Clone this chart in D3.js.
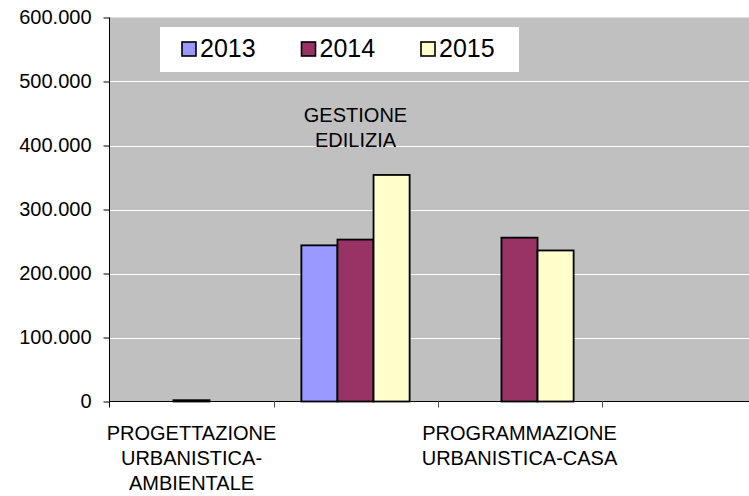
<!DOCTYPE html>
<html>
<head>
<meta charset="utf-8">
<script src="https://cdn.jsdelivr.net/npm/d3@7"></script>
<style>
  body { margin: 0; background: #fff; }
  text { font-family: "Liberation Sans", Arial, sans-serif; fill: #000; }
</style>
</head>
<body>
<div id="chart"></div>
<script>
// Dati del grafico
var categories = ["PROGETTAZIONE URBANISTICA-AMBIENTALE", "GESTIONE EDILIZIA", "PROGRAMMAZIONE URBANISTICA-CASA", ""];
var categoryLines = [["PROGETTAZIONE", "URBANISTICA-", "AMBIENTALE"], ["GESTIONE", "EDILIZIA"], ["PROGRAMMAZIONE", "URBANISTICA-CASA"], []];
var years = ["2013", "2014", "2015"];
var values2013 = [null, 244000, null, null];
var values2014 = [2000, 253000, 256000, null];
var values2015 = [null, 354000, 236000, null];
var yTicks = [0, 100000, 200000, 300000, 400000, 500000, 600000];
var colors = ["#9999FF", "#993366", "#FFFFCC"];

var series = [values2013, values2014, values2015];

var width = 749,
  height = 496;

var svg = d3.select("#chart")
  .append("svg")
  .attr("width", width)
  .attr("height", height);

// formato italiano per i numeri (600.000)
var it = d3.formatLocale({ decimal: ",", thousands: ".", grouping: [3], currency: ["€", ""] });
var fmt = it.format(",d");

// Scale
var x = d3.scaleBand()
  .domain(categories)
  .range([109.5, 765.5])
  .paddingInner(0.34)
  .paddingOuter(0.17);

var xs = d3.scaleBand()
  .domain(years)
  .range([0, x.bandwidth()]);

var y = d3.scaleLinear()
  .domain([0, 600000])
  .range([401.5, 17.5]);

// area del grafico
svg.append("rect")
  .attr("x", 109.5)
  .attr("y", y(600000))
  .attr("width", width - 109.5)
  .attr("height", y(0) - y(600000))
  .style("fill", "#C0C0C0");

// griglia
svg.selectAll(".grid")
  .data(yTicks.filter(function(d) { return d > 0 && d < 600000; }))
  .enter()
  .append("line")
  .attr("x1", 110)
  .attr("x2", width)
  .attr("y1", function(d) { return Math.round(y(d)) + 0.5; })
  .attr("y2", function(d) { return Math.round(y(d)) + 0.5; })
  .style("stroke", "#fff")
  .style("stroke-width", 1);

// barre
var bars = [];
categories.forEach(function(c, i) {
  years.forEach(function(yr, j) {
    if (series[j][i] != null) bars.push({ cat: c, year: yr, value: series[j][i], color: colors[j] });
  });
});

svg.selectAll(".bar")
  .data(bars)
  .enter()
  .append("rect")
  .attr("x", function(d) { return x(d.cat) + xs(d.year); })
  .attr("y", function(d) { return y(d.value); })
  .attr("width", xs.bandwidth())
  .attr("height", function(d) { return y(0) - y(d.value); })
  .style("fill", function(d) { return d.color; })
  .style("stroke", "#000")
  .style("stroke-width", 1.8);

// asse Y
var yAxis = svg.append("g")
  .attr("transform", "translate(109.5,0)")
  .call(d3.axisLeft(y).tickValues(yTicks).tickFormat(fmt).tickSize(6).tickSizeOuter(0).tickPadding(12));
yAxis.select(".domain").attr("d", "M0," + y(600000) + "V" + (y(0) + 6)).style("stroke", "#000");
yAxis.selectAll("line").style("stroke", "#000");
yAxis.selectAll("text")
  .style("font-size", "20px")
  .style("font-family", "'Liberation Sans', Arial, sans-serif");

// asse X
svg.append("line")
  .attr("x1", 109.5)
  .attr("x2", width)
  .attr("y1", y(0))
  .attr("y2", y(0))
  .style("stroke", "#000")
  .style("stroke-width", 1.2);

svg.selectAll(".xtick")
  .data(categories)
  .enter()
  .append("line")
  .attr("x1", function(d) { return Math.round(x(d) + x.bandwidth() / 2 + x.step() / 2) + 0.5; })
  .attr("x2", function(d) { return Math.round(x(d) + x.bandwidth() / 2 + x.step() / 2) + 0.5; })
  .attr("y1", y(0))
  .attr("y2", y(0) + 6)
  .style("stroke", "#555");

// etichette delle categorie (alternate sopra/sotto)
categories.forEach(function(c, i) {
  var cx = x(c) + x.bandwidth() / 2;
  var base = i % 2 === 0 ? 440 : 122;
  svg.append("text")
    .attr("text-anchor", "middle")
    .style("font-size", "20px")
    .selectAll("tspan")
    .data(categoryLines[i])
    .enter()
    .append("tspan")
    .attr("x", cx)
    .attr("y", function(d, k) { return base + k * 25; })
    .text(function(d) { return d; });
});

// legenda
var legend = svg.append("g");
legend.append("rect")
  .attr("x", 160)
  .attr("y", 27)
  .attr("width", 359)
  .attr("height", 45)
  .style("fill", "#fff");

var item = legend.selectAll(".item")
  .data(years)
  .enter()
  .append("g")
  .attr("transform", function(d, i) { return "translate(" + (182 + i * 119.5) + ",0)"; });

item.append("rect")
  .attr("x", 0)
  .attr("y", 42)
  .attr("width", 14)
  .attr("height", 14)
  .style("fill", function(d, i) { return colors[i]; })
  .style("stroke", "#000")
  .style("stroke-width", 1.6);

item.append("text")
  .attr("x", 18)
  .attr("y", 57)
  .style("font-size", "25px")
  .text(function(d) { return d; });
</script>
</body>
</html>
